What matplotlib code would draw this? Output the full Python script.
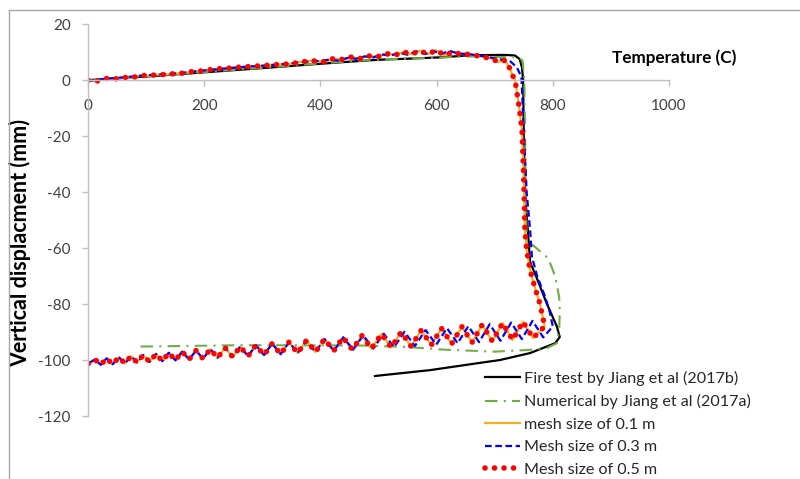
import matplotlib
matplotlib.use('Agg')
import matplotlib.pyplot as plt
from matplotlib.lines import Line2D

plt.rcParams['font.family'] = ['Lato', 'DejaVu Sans']
plt.rcParams['axes.unicode_minus'] = False

# fire test (Jiang et al 2017b): temperature (C), vertical displacement (mm)
fire_T = [0, 100, 200, 300, 389, 450, 500, 554, 611, 657, 700, 720, 735, 743, 747, 749,
          750, 752, 757, 761, 773, 790, 807, 812, 804, 761, 709, 675, 589, 494]
fire_d = [0, 1.3, 2.8, 4.3, 5.7, 6.6, 7.3, 7.7, 8.2, 8.9, 9.0, 9.0, 8.8, 7.5, 4.5, 0,
          -20, -40, -53.6, -65, -71, -80, -88, -91.8, -94, -97.5, -100, -101, -103.6, -105.7]

# numerical (Jiang et al 2017a)
num_T = [0, 100, 200, 300, 400, 500, 600, 650, 700, 740, 748, 751, 753, 755, 766, 792, 804,
         811, 812, 811, 807, 790, 757, 700, 614, 546, 468, 263, 84]
num_d = [0, 1.4, 2.9, 4.4, 6.0, 7.4, 8.0, 8.5, 8.3, 8.2, 7.0, 0, -30, -58, -59, -63.6, -70,
         -77.5, -83, -89, -94, -95.7, -96.4, -97.0, -96.3, -95.3, -94.8, -94.7, -95.2]

# mesh 0.5 m (and 0.1 m, which sits on it): heating branch
m05_up_T = [0, 16, 30, 46, 60, 76, 91, 106, 119, 136, 151, 166, 182, 196, 212, 226, 243, 257,
            272, 287, 303, 318, 334, 350, 365, 380, 394, 408, 422, 439, 454, 468, 482, 497,
            514, 528, 543, 557, 571, 586, 599, 614, 629, 640, 652, 666, 680, 695, 706, 718,
            726, 730, 735, 742, 747, 750, 752, 755, 761, 769, 778, 783, 786]
m05_up_d = [0, -0.3, 0.6, 0.4, 1.0, 0.9, 1.7, 1.6, 2.0, 2.0, 2.4, 2.5, 3.2, 3.3, 3.8, 4.1, 4.3,
            4.6, 4.8, 5.0, 5.2, 5.5, 5.7, 5.8, 6.5, 6.8, 6.9, 6.5, 7.7, 7.4, 8.3, 7.7, 8.7, 8.3,
            9.5, 8.9, 10.1, 9.3, 10.5, 9.3, 10.7, 8.9, 10.1, 9.3, 9.3, 8.9, 8.3, 7.7, 6.5, 7.1,
            4.2, 2.0, 0, -9.5, -18, -35, -53.6, -60.7, -68, -74, -80, -85, -88]
# mesh 0.5 m: cooling branch (from hot end back to 0 C)
m05_down_T = [766, 748.5, 731, 713.5, 696, 678.5, 661, 643.5, 626, 608.5, 591, 573.5, 556, 539,
              522, 505, 488, 471.5, 455, 439, 423, 407, 391.5, 376, 361, 346, 331.5, 317, 303,
              289, 275.5, 262, 249, 236, 223, 210.5, 198, 186, 174, 162, 150.5, 139, 128, 117,
              106, 95, 84.5, 74, 63.5, 53, 42.5, 32, 22, 12, 0]
m05_down_d = [-92.1, -86.3, -92.8, -86.8, -93.3, -87.4, -93.7, -88.1, -94.2, -88.7, -94.6, -89.4,
              -95.1, -90.0, -95.5, -90.7, -95.9, -91.3, -96.3, -91.9, -96.7, -92.5, -97.1, -93.0,
              -97.5, -93.6, -97.9, -94.1, -98.2, -94.7, -98.6, -95.2, -98.9, -95.6, -99.2, -96.1,
              -99.5, -96.6, -99.8, -97.0, -100.1, -97.4, -100.4, -97.8, -100.7, -98.2, -100.9,
              -98.6, -101.2, -99.0, -101.5, -99.4, -101.7, -99.8, -101.3]

# mesh 0.3 m
m03_up_T = [0, 30, 60, 91, 119, 151, 182, 212, 243, 272, 303, 334, 365, 394, 415, 431, 448, 461,
            476, 490, 506, 520, 535, 550, 565, 580, 594, 608, 622, 637, 652, 680, 705, 726, 738,
            746, 750, 755, 761, 764, 773, 787, 795, 800]
m03_up_d = [-0.3, 0.5, 1.0, 1.6, 2.0, 2.4, 3.1, 3.7, 4.3, 4.8, 5.2, 5.7, 6.4, 6.8, 7.3, 7.0, 8.0,
            7.6, 8.5, 8.1, 9.2, 8.7, 9.8, 9.1, 10.3, 9.3, 10.5, 9.3, 10.5, 9.5, 9.4, 8.6, 7.6,
            6.9, 4.6, 1.2, -18, -40, -53.6, -63, -70, -77.5, -83, -88]
m03_down_T = [783.5, 765.1, 746.7, 728.3, 709.9, 691.4, 673, 654.6, 636.2, 617.8, 599.4, 581,
              562.6, 544.7, 526.8, 508.9, 491, 473.7, 456.3, 439.5, 423, 407, 391.5, 376, 361,
              346, 331.5, 317, 303, 289, 275.5, 262, 249, 236, 223, 210.5, 198, 186, 174, 162,
              150.5, 139, 128, 117, 106, 95, 84.5, 74, 63.5, 53, 42.5, 32, 22, 12, 0]
m03_down_d = [-91.9, -86.0, -92.5, -86.6, -93.1, -87.2, -93.6, -87.9, -94.0, -88.6, -94.5, -89.3,
              -95.0, -89.9, -95.4, -90.6, -95.9, -91.2, -96.3, -91.9, -96.7, -92.5, -97.1, -93.0,
              -97.5, -93.6, -97.9, -94.1, -98.2, -94.7, -98.6, -95.2, -98.9, -95.6, -99.2, -96.1,
              -99.5, -96.6, -99.8, -97.0, -100.1, -97.4, -100.4, -97.8, -100.7, -98.2, -100.9,
              -98.6, -101.2, -99.0, -101.5, -99.4, -101.7, -99.8, -101.3]

labels = ['Fire test by Jiang et al (2017b)', 'Numerical by Jiang et al (2017a)',
          'mesh size of 0.1 m', 'Mesh size of 0.3 m', 'Mesh size of 0.5 m']
x_ticks = [0, 200, 400, 600, 800, 1000]
y_ticks = [20, 0, -20, -40, -60, -80, -100, -120]

grey = '#BFBFBF'

fig = plt.figure(figsize=(8, 4.79), dpi=100)
ax = fig.add_axes([0.11, 0.1315, 0.72625, 0.818])

m05_T = m05_up_T + m05_down_T
m05_d = m05_up_d + m05_down_d
m03_T = m03_up_T + m03_down_T
m03_d = m03_up_d + m03_down_d

h1, = ax.plot(fire_T, fire_d, color='black', lw=1.6, solid_joinstyle='round')
h2, = ax.plot(num_T, num_d, color='#70AD47', lw=1.5, linestyle=(0, (6, 3, 1, 3)))
h3, = ax.plot(m05_T, m05_d, color='#F2B01E', lw=1.6)
h4, = ax.plot(m03_T, m03_d, color='#0000FF', lw=1.6, linestyle=(0, (3, 1.6)))
h5, = ax.plot(m05_T, m05_d, color='#FF0000', lw=4.0, linestyle=(0, (0.01, 1.7)),
              dash_capstyle='round')

ax.set_xlim(0, 1000)
ax.set_ylim(-120, 20)
ax.set_xticks(x_ticks)
ax.set_yticks(y_ticks)
ax.spines['top'].set_visible(False)
ax.spines['right'].set_visible(False)
ax.spines['bottom'].set_position(('data', 0))
for s in ['left', 'bottom']:
    ax.spines[s].set_color(grey)
    ax.spines[s].set_linewidth(1.0)
ax.tick_params(axis='both', colors=grey, length=4.5, width=1.0, labelcolor='#404040',
               labelsize=11)
ax.tick_params(axis='x', pad=9)
ax.tick_params(axis='y', pad=8)

ax.set_ylabel('Vertical displacment (mm)', fontsize=15.5, fontweight='bold', color='black')
ax.yaxis.set_label_coords(-0.098, 0.441)
fig.text(674 / 800, 1 - 58 / 479, 'Temperature (C)', fontsize=12.3, fontweight='bold',
         ha='center', va='center')

fig.legend([h1, h2, h3, h4, h5], labels, loc='upper left', bbox_to_anchor=(485 / 800, 1 - 371 / 479),
           frameon=False, fontsize=11.6, handlelength=2.2, handletextpad=0.25, labelspacing=0.51,
           borderpad=0, borderaxespad=0, labelcolor='#262626')

# outer chart frame
fig.add_artist(Line2D([9 / 800, 1], [1 - 10 / 479, 1 - 10 / 479], transform=fig.transFigure,
                      color='#A6A6A6', lw=1))
fig.add_artist(Line2D([9 / 800, 9 / 800], [0, 1 - 10 / 479], transform=fig.transFigure,
                      color='#A6A6A6', lw=1))

fig.savefig('out.png', dpi=100)
